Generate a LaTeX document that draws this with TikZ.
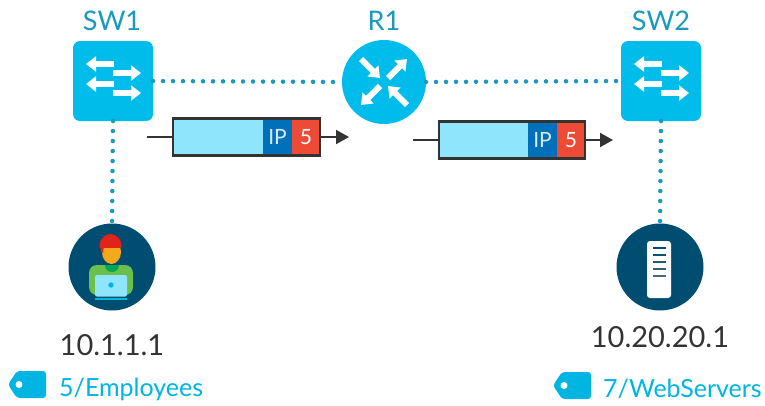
\documentclass[tikz,border=0pt]{standalone}
\usepackage{fontspec}
\setmainfont{Lato}
\usetikzlibrary{positioning}
\usetikzlibrary{arrows.meta}

\definecolor{devcyan}{HTML}{00BCEB}
\definecolor{linkteal}{HTML}{1A98BE}
\definecolor{hostnavy}{HTML}{004D72}
\definecolor{payloadcyan}{HTML}{8FE5FB}
\definecolor{ipblue}{HTML}{0070BB}
\definecolor{sgtred}{HTML}{EE4B37}
\definecolor{sgtcyan}{HTML}{00B5E2}
\definecolor{ink}{HTML}{333333}
\definecolor{skin}{HTML}{F6A81C}
\definecolor{hair}{HTML}{E2231A}
\definecolor{shirt}{HTML}{6CBF4B}
\definecolor{collar}{HTML}{00A651}

\tikzset{
  switchbox/.style={fill=devcyan, minimum size=80pt, rounded corners=7pt, inner sep=0pt, outer sep=0pt},
  routerdisc/.style={circle, fill=devcyan, minimum size=84pt, inner sep=0pt, outer sep=0pt},
  hostdisc/.style={circle, fill=hostnavy, minimum size=87pt, inner sep=0pt, outer sep=0pt},
  devlabel/.style={text=linkteal, font=\fontsize{27}{27}\selectfont},
  addrlabel/.style={text=ink, font=\fontsize{29}{29}\selectfont},
  sgtlabel/.style={text=sgtcyan, font=\fontsize{25}{25}\selectfont, anchor=west, inner sep=0pt},
  link/.style={draw=linkteal, line width=4.5pt, line cap=round, dash pattern=on 0pt off 10pt},
  flow/.style={white, line width=6pt, -{Triangle[length=10pt,width=15pt]}},
  field/.style={minimum height=37pt, inner sep=0pt, outer sep=0pt, anchor=west},
  ipfield/.style={field, fill=ipblue, text=white!85!ipblue, minimum width=29pt, font=\fontsize{21}{21}\selectfont},
  sgtfield/.style={field, fill=sgtred, text=white, minimum width=28pt, font=\fontsize{21}{21}\selectfont},
  wire/.style={ink, line width=2pt},
  sgttag/.style={fill=sgtcyan, rounded corners=3pt}
}

\begin{document}
\begin{tikzpicture}[x=1pt, y=-1pt]
  \useasboundingbox (0,0) rectangle (765,405);

  % Devices
  \node[switchbox] (sw1) at (113,81) {};
  \node[routerdisc] (r1) at (384,82) {};
  \node[switchbox] (sw2) at (661,81) {};
  \node[hostdisc] (pc) at (112,267) {};
  \node[hostdisc] (srv) at (660,267) {};

  \node[devlabel] (sw1lbl) at (112,21) {SW1};
  \node[devlabel] (r1lbl) at (384,21) {R1};
  \node[devlabel] (sw2lbl) at (661,21) {SW2};

  % Dotted links
  \draw[link] (sw1.east) -- (r1.west);
  \draw[link] (r1.east) -- (sw2.west);
  \draw[link] (sw1.south) -- (pc.north);
  \draw[link] (sw2.south) -- (srv.north);

  % Switch glyphs
  \foreach \sw in {sw1,sw2} {
    \begin{scope}[shift={(\sw.center)}]
      \foreach \dy in {-17,3}
        \draw[flow] (1,\dy) -- (-27,\dy);
      \foreach \dy in {-8,12}
        \draw[flow] (0,\dy) -- (28,\dy);
    \end{scope}
  }

  % Router glyph
  \begin{scope}[shift={(r1.center)}]
    \draw[flow] (-23,-23) -- (-4,-4);
    \draw[flow] (23,23) -- (4,4);
    \draw[flow] (4,-4) -- (23,-23);
    \draw[flow] (-4,4) -- (-23,23);
  \end{scope}

  % Employee at a laptop
  \begin{scope}[shift={(pc.center)}]
    \fill[shirt, rounded corners=8pt] (-23,28) -- (-23,-2) -- (21,-2) -- (21,28) -- cycle;
    \fill[collar] (-7,-2) arc[start angle=180, end angle=0, radius=7] -- cycle;
    \fill[skin] (-0.5,-15) ellipse[x radius=9.5, y radius=12];
    \begin{scope}
      \clip (-14,-40) rectangle (14,-20);
      \fill[hair] (-1.5,-21) ellipse[x radius=11, y radius=12];
    \end{scope}
    \fill[hair] (-12,-22) -- (-8,-22) -- (-9,-14) -- (-11,-15) -- cycle;
    \fill[payloadcyan, rounded corners=2pt] (-17,8) rectangle (15,29.5);
    \fill[sgtcyan] (-1,18) circle[radius=2.7];
    \fill[sgtcyan] (-17,31) rectangle (15,33);
  \end{scope}

  % Web server glyph
  \begin{scope}[shift={(srv.center)}]
    \fill[white, rounded corners=3pt] (-13,-26) rectangle (11,31);
    \foreach \dy/\shade in {-19/100,-12/90,-5/75,2/60,9/45}
      \draw[hostnavy!\shade!gray, line width=1.5pt] (-7,\dy) -- (6,\dy);
  \end{scope}

  % Packets on the wire
  \coordinate (in1) at (147,137);
  \coordinate (out1) at (349,137);
  \node[field, fill=payloadcyan, minimum width=90pt] (pl1) at (173,137) {};
  \node[ipfield, right=0pt of pl1] (ip1) {IP};
  \node[sgtfield, right=0pt of ip1] (tag1) {5};
  \draw[ink, line width=2.5pt] (pl1.north west) rectangle (tag1.south east);
  \draw[wire] (in1) -- (pl1.west);
  \draw[wire, -{Triangle[length=13pt,width=14pt]}] (tag1.east) -- (out1);

  \coordinate (in2) at (413,140);
  \coordinate (out2) at (613,140);
  \node[field, fill=payloadcyan, minimum width=89pt] (pl2) at (439,140) {};
  \node[ipfield, right=0pt of pl2] (ip2) {IP};
  \node[sgtfield, right=0pt of ip2] (tag2) {5};
  \draw[ink, line width=2.5pt] (pl2.north west) rectangle (tag2.south east);
  \draw[wire] (in2) -- (pl2.west);
  \draw[wire, -{Triangle[length=13pt,width=14pt]}] (tag2.east) -- (out2);

  % Addresses
  \node[addrlabel] (pcaddr) at (112,345) {10.1.1.1};
  \node[addrlabel] (srvaddr) at (660,337) {10.20.20.1};

  % Group tags
  \foreach \x/\y/\nm in {8/371/t1,553/372/t2} {
    \begin{scope}[shift={(\x,\y)}]
      \fill[sgttag] (0,13.5) -- (9,0) -- (38,0) -- (38,27) -- (9,27) -- cycle;
      \fill[white] (11,13.5) circle[radius=3.5];
    \end{scope}
  }
  \node[sgtlabel] (grp1) at (59,389) {5/Employees};
  \node[sgtlabel] (grp2) at (603,389) {7/WebServers};
\end{tikzpicture}
\end{document}
